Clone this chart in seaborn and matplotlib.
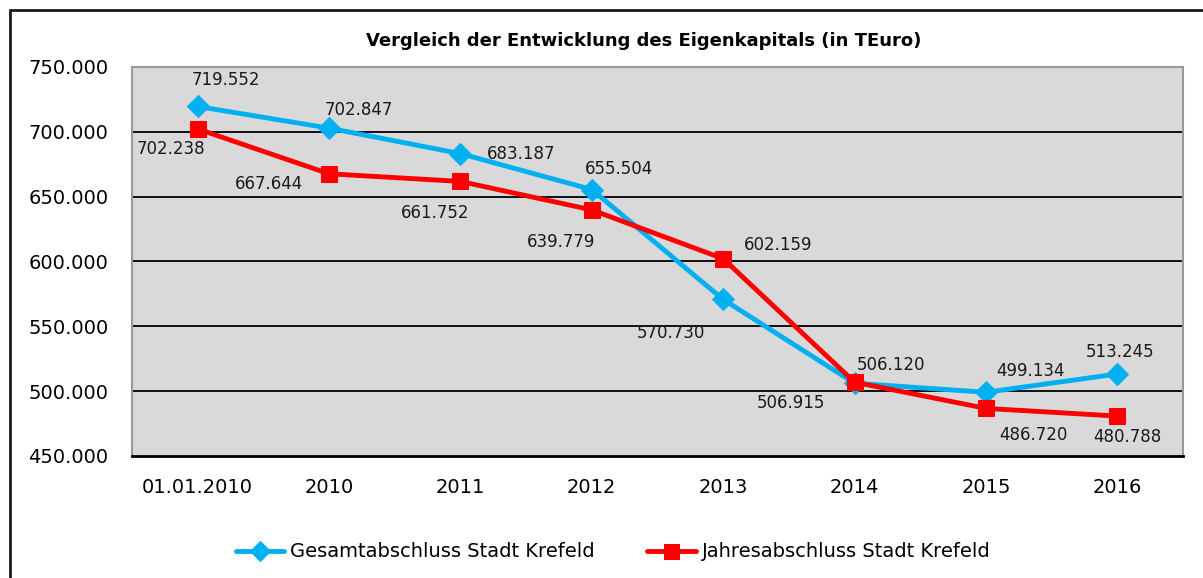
import pandas as pd
import seaborn as sns
import matplotlib.pyplot as plt
from matplotlib.lines import Line2D
from matplotlib.ticker import FuncFormatter

jahre = ["01.01.2010", "2010", "2011", "2012", "2013", "2014", "2015", "2016"]
gesamt = [719.552, 702.847, 683.187, 655.504, 570.730, 506.120, 499.134, 513.245]
jahres = [702.238, 667.644, 661.752, 639.779, 602.159, 506.915, 486.720, 480.788]

# label offsets (pixels) per point
off_gesamt = [(28, 26), (30, 18), (61, 0), (27, 21), (-52, -34), (36, 18), (45, 21), (3, 22)]
off_jahres = [(-27, -20), (-60, -10), (-25, -32), (-31, -32), (55, 14), (-64, -21), (48, -27), (10, -21)]

BLUE = "#00B0F0"
RED = "#FF0000"

sns.set_theme(style="white")
plt.rcParams["font.family"] = ["DejaVu Sans"]

df = pd.DataFrame({"jahr": jahre, "gesamt": gesamt, "jahres": jahres})

fig = plt.figure(figsize=(12.03, 5.78), dpi=100)
ax = fig.add_axes([132 / 1203, 1 - 456 / 578, 1051 / 1203, 389 / 578])
ax.set_facecolor("#D9D9D9")

sns.lineplot(data=df, x="jahr", y="gesamt", ax=ax, color=BLUE, lw=3.5, marker="D",
             markersize=11, markeredgecolor=BLUE, sort=False, label="Gesamtabschluss Stadt Krefeld")
sns.lineplot(data=df, x="jahr", y="jahres", ax=ax, color=RED, lw=3.5, marker="s",
             markersize=12, markeredgecolor=RED, sort=False, label="Jahresabschluss Stadt Krefeld")

def fmt(v):
    return f"{v:.3f}"

for i, (v, o) in enumerate(zip(gesamt, off_gesamt)):
    ax.annotate(fmt(v), (i, v), xytext=o, textcoords="offset pixels",
                ha="center", va="center", fontsize=12, color="#1a1a1a")
for i, (v, o) in enumerate(zip(jahres, off_jahres)):
    ax.annotate(fmt(v), (i, v), xytext=o, textcoords="offset pixels",
                ha="center", va="center", fontsize=12, color="#1a1a1a")

ax.set_xlim(-0.5, len(jahre) - 0.5)
ax.set_ylim(450, 750)
ax.set_yticks([450, 500, 550, 600, 650, 700, 750])
ax.yaxis.set_major_formatter(FuncFormatter(lambda v, p: f"{v:.3f}"))
for y in [500, 550, 600, 650, 700]:
    ax.axhline(y, color="black", lw=1.3, zorder=1)
ax.tick_params(axis="both", length=0, labelsize=14, colors="black")
ax.tick_params(axis="y", pad=17)
ax.tick_params(axis="x", pad=16)
ax.set_xlabel("")
ax.set_ylabel("")

for s in ["top", "left", "right"]:
    ax.spines[s].set_color("#9a9a9a")
    ax.spines[s].set_linewidth(1.5)
ax.spines["bottom"].set_color("black")
ax.spines["bottom"].set_linewidth(2)

fig.text(644 / 1203, 1 - 41 / 578, "Vergleich der Entwicklung des Eigenkapitals (in TEuro)",
         ha="center", va="center", fontsize=13, fontweight="bold", color="black")

leg = ax.legend(loc="center", bbox_to_anchor=(613 / 1203, 0.045), bbox_transform=fig.transFigure,
                ncol=2, frameon=False, fontsize=14, handlelength=2.5, handletextpad=0.3,
                columnspacing=2.7, markerscale=0.9)
for t in leg.get_texts():
    t.set_color("black")

# chart border (top and left edges visible)
fig.add_artist(Line2D([10 / 1203, 1.0], [1 - 10 / 578, 1 - 10 / 578], color="#1a1a1a", lw=2,
                      transform=fig.transFigure))
fig.add_artist(Line2D([10 / 1203, 10 / 1203], [0.0, 1 - 10 / 578], color="#1a1a1a", lw=2,
                      transform=fig.transFigure))

fig.savefig("out.png", dpi=100, facecolor="white")
